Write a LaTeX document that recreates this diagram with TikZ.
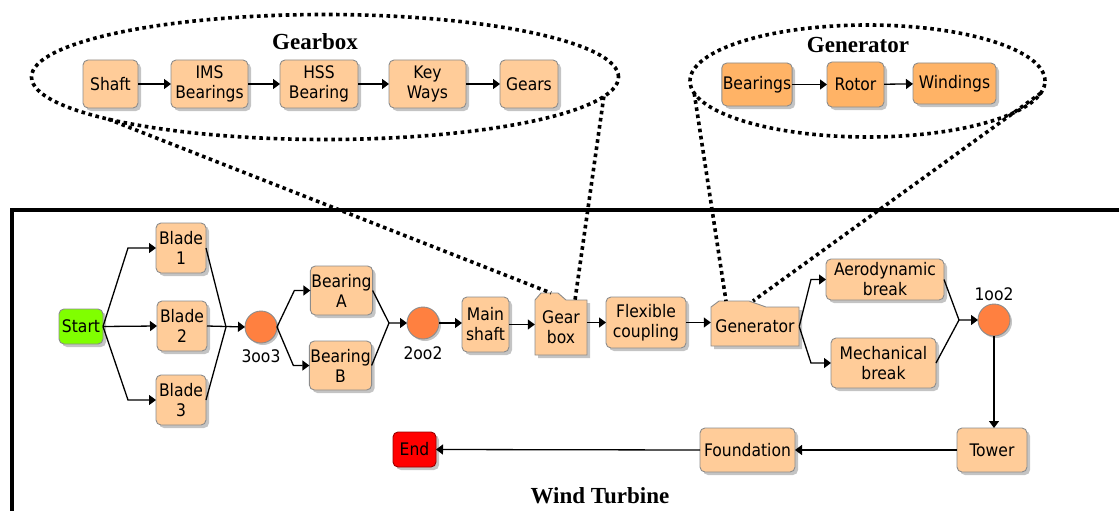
\documentclass[tikz,border=0pt]{standalone}
\usepackage{fontspec}
\setmainfont{DejaVu Sans Condensed}
\newfontfamily\titlefont{Liberation Serif}
\usetikzlibrary{arrows.meta,shapes.geometric,shadows,calc}
\definecolor{peach}{HTML}{FFCC99}
\definecolor{darkpeach}{HTML}{FFB366}
\definecolor{circc}{HTML}{FF8040}
\definecolor{startc}{HTML}{80FF00}
\definecolor{endc}{HTML}{FF0000}
\definecolor{bordc}{HTML}{8C8C8C}
\definecolor{shadc}{HTML}{C4C4C4}
\begin{document}
\begin{tikzpicture}[x=1pt,y=-1pt,
  boxfont/.style={font=\fontsize{17.3}{20}\selectfont},
  box/.style={boxfont, draw=bordc, line width=0.9pt, fill=peach, rounded corners=5pt, align=center, inner sep=1pt, outer sep=0pt,
    drop shadow={shadow xshift=3pt, shadow yshift=-3pt, fill=shadc, opacity=1}},
  genbox/.style={box, fill=darkpeach},
  gate/.style={circle, draw=bordc, line width=0.9pt, fill=circc, minimum size=32pt, inner sep=0pt, outer sep=0pt,
    drop shadow={shadow xshift=2pt, shadow yshift=-2pt, fill=shadc, opacity=1}},
  lbl/.style={boxfont, inner sep=0pt},
  title/.style={font=\titlefont\fontsize{23}{26}\selectfont\bfseries, inner sep=0pt},
  conn/.style={line width=1.3pt, -{Triangle[length=7pt,width=10pt]}},
  plain/.style={line width=1.3pt},
  dots/.style={line width=3.6pt, dash pattern=on 3.6pt off 3.6pt},
  grp/.style={ellipse, draw, dots, inner sep=0pt, outer sep=0pt},
  folder/.style={draw=bordc, line width=0.9pt, fill=peach},
  fshadow/.style={fill=shadc}
]
\useasboundingbox (0,0) rectangle (1119,511);

% frame
\draw[line width=4pt] (12,520) -- (12,210) -- (1130,210);
\node[title] (wt) at (600,496) {Wind Turbine};

% gearbox group
\node[grp, minimum width=587pt, minimum height=125pt] (gbE) at (325,77) {};
\node[title] (gbT) at (315,42) {Gearbox};
\node[box, minimum width=55pt, minimum height=48pt] (Shaft) at (110.5,84) {Shaft};
\node[box, minimum width=77pt, minimum height=48pt] (IMS) at (209.5,84) {IMS\\Bearings};
\node[box, minimum width=78pt, minimum height=48pt] (HSS) at (319,84) {HSS\\Bearing};
\node[box, minimum width=77pt, minimum height=48pt] (Key) at (427.5,84) {Key\\Ways};
\node[box, minimum width=58pt, minimum height=48pt] (Gears) at (529,84) {Gears};
\draw[conn] (Shaft) -- (IMS);
\draw[conn] (IMS) -- (HSS);
\draw[conn] (HSS) -- (Key);
\draw[conn] (Key) -- (Gears);

% generator group
\node[grp, minimum width=355pt, minimum height=112pt] (geE) at (867.5,81) {};
\node[title] (geT) at (858,45) {Generator};
\node[genbox, minimum width=70pt, minimum height=43pt] (Bearings) at (757,84.5) {Bearings};
\node[genbox, minimum width=57pt, minimum height=45pt] (Rotor) at (855.5,84.5) {Rotor};
\node[genbox, minimum width=83pt, minimum height=41pt] (Windings) at (954.5,83.5) {Windings};
\draw[conn] (Bearings) -- (Rotor);
\draw[conn] (Rotor) -- (Windings);

% main chain
\node[box, fill=startc, minimum width=44pt, minimum height=35pt] (Start) at (81,326.5) {Start};
\node[box, minimum width=50pt, minimum height=50pt] (Blade1) at (181,248) {Blade\\1};
\node[box, minimum width=50pt, minimum height=50pt] (Blade2) at (182,326) {Blade\\2};
\node[box, minimum width=50pt, minimum height=50pt] (Blade3) at (181,400) {Blade\\3};
\node[gate] (c3) at (261,327) {};
\node[lbl] (l3) at (261,356) {3oo3};
\node[box, minimum width=61pt, minimum height=49pt] (BearA) at (341.5,290.5) {Bearing\\A};
\node[box, minimum width=61pt, minimum height=49pt] (BearB) at (340.5,365.5) {Bearing\\B};
\node[gate] (c2) at (423,323) {};
\node[lbl] (l2) at (423,353) {2oo2};
\node[box, minimum width=47pt, minimum height=55pt] (MainShaft) at (485.5,324.5) {Main\\shaft};

% gear box folder
\fill[fshadow] (538,358) -- (538,303) -- (544,296) -- (561,296) -- (569,303) -- (590,303) -- (590,358) -- cycle;
\draw[folder] (535,355) -- (535,300) -- (541,293) -- (558,293) -- (566,300) -- (587,300) -- (587,355) -- cycle;
\node[boxfont, align=center, inner sep=0pt, minimum width=52pt, minimum height=55pt] (GearBox) at (561,327.5) {Gear\\box};
\coordinate (gbIn1) at (551,293);
\coordinate (gbIn2) at (575,300);

\node[box, minimum width=80pt, minimum height=51pt] (Flex) at (646,322.5) {Flexible\\coupling};

% generator folder
\fill[fshadow] (714,349) -- (714,310) -- (722,304) -- (752,304) -- (769,310) -- (802,310) -- (802,349) -- cycle;
\draw[folder] (711,346) -- (711,307) -- (719,301) -- (749,301) -- (766,307) -- (799,307) -- (799,346) -- cycle;
\node[boxfont, inner sep=0pt, minimum width=88pt, minimum height=39pt] (Gen) at (755,326.5) {Generator};
\coordinate (geIn1) at (726,301);
\coordinate (geIn2) at (753,301);

\node[box, minimum width=118pt, minimum height=41pt] (Aero) at (885,279.5) {Aerodynamic\\break};
\node[box, minimum width=105pt, minimum height=50pt] (Mech) at (883.5,363) {Mechanical\\break};
\node[gate] (c1) at (994,320) {};
\node[lbl] (l1) at (994,294) {1oo2};
\node[box, minimum width=70pt, minimum height=44pt] (Tower) at (992,450) {Tower};
\node[box, minimum width=95pt, minimum height=44pt] (Found) at (747.5,450) {Foundation};
\node[box, fill=endc, draw=red!60!black, minimum width=43pt, minimum height=35pt] (End) at (414.5,449.5) {End};

% connectors
\draw[conn] (Start.east) -- ([xshift=-28pt]Blade1.west) -- (Blade1.west);
\draw[conn] (Start.east) -- (Blade2.west);
\draw[conn] (Start.east) -- ([xshift=-28pt]Blade3.west) -- (Blade3.west);
\draw[plain] (Blade1.east) -- ([xshift=-19pt]c3.west);
\draw[plain] (Blade3.east) -- ([xshift=-19pt]c3.west);
\draw[conn] (Blade2.east) -- (c3.west);
\draw[conn] (c3.east) -- ([xshift=-16pt]BearA.west) -- (BearA.west);
\draw[conn] (c3.east) -- ([xshift=-16pt]BearB.west) -- (BearB.west);
\draw[plain] (BearA.east) -- ([xshift=-18pt]c2.west);
\draw[conn] (BearB.east) -- ([xshift=-18pt]c2.west) -- (c2.west);
\draw[conn] (c2.east) -- (c2.east -| MainShaft.west);
\draw[conn] (MainShaft.east) -- (MainShaft.east -| GearBox.west);
\draw[conn] (Flex.west -| GearBox.east) -- (Flex.west);
\draw[conn] (Flex.east) -- (Flex.east -| Gen.west);
\draw[conn] (Gen.east) -- ([xshift=-15pt]Aero.west) -- (Aero.west);
\draw[conn] (Gen.east) -- ([xshift=-20pt]Mech.west) -- (Mech.west);
\draw[plain] (Aero.east) -- ([xshift=-19pt]c1.west);
\draw[conn] (Mech.east) -- ([xshift=-19pt]c1.west) -- (c1.west);
\draw[conn] (c1.south) -- (c1.south |- Tower.north);
\draw[conn] (Tower.west) -- (Found.east);
\draw[conn] (Found.west) -- (End.east);

% zoom lines
\draw[dots] (gbE.191) -- (gbIn1);
\draw[dots] (gbE.-4) -- (gbIn2);
\draw[dots] (geE.184) -- (geIn1);
\draw[dots] (geE.-4) -- (geIn2);
\end{tikzpicture}
\end{document}
